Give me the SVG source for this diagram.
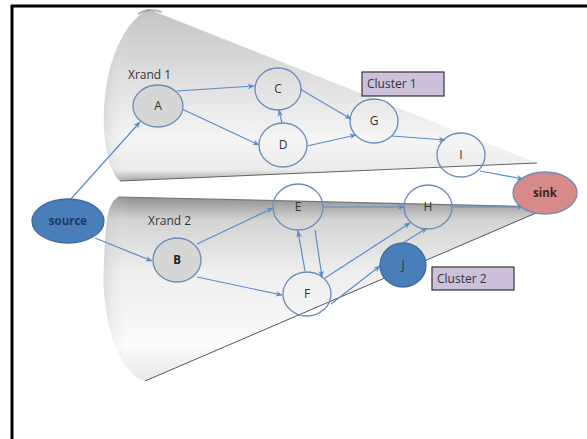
<svg xmlns="http://www.w3.org/2000/svg" width="587" height="439" viewBox="0 0 587 439">
<defs>
<linearGradient id="g1" gradientUnits="userSpaceOnUse" x1="0" y1="10" x2="0" y2="182">
<stop offset="0" stop-color="#c4c4c4"/>
<stop offset="0.35" stop-color="#dcdcdc"/>
<stop offset="0.75" stop-color="#f5f5f5"/>
<stop offset="0.93" stop-color="#ebebeb"/>
<stop offset="1" stop-color="#a0a0a0"/>
</linearGradient>
<linearGradient id="g2" gradientUnits="userSpaceOnUse" x1="0" y1="198" x2="0" y2="382">
<stop offset="0" stop-color="#939393"/>
<stop offset="0.12" stop-color="#d3d3d3"/>
<stop offset="0.4" stop-color="#eeeeee"/>
<stop offset="0.8" stop-color="#fbfbfb"/>
<stop offset="1" stop-color="#e8e8e8"/>
</linearGradient>
<linearGradient id="rim" gradientUnits="userSpaceOnUse" x1="100" y1="0" x2="130" y2="0">
<stop offset="0" stop-color="#a0a6b0" stop-opacity="0.35"/>
<stop offset="1" stop-color="#ffffff" stop-opacity="0"/>
</linearGradient>
<marker id="ah" viewBox="0 0 10 10" refX="9" refY="5" markerWidth="7" markerHeight="7" orient="auto" markerUnits="userSpaceOnUse">
<path d="M0,1 L10,5 L0,9 L3,5 Z" fill="#5b8bc9"/>
</marker>
<style>
.e{stroke:#5b8bc9;stroke-width:1.2;fill:none;marker-end:url(#ah)}
.n{stroke:#6b8cba;stroke-width:1.3;fill:none}
.ng{stroke:#6b8cba;stroke-width:1.3;fill:#d6d6d6}
.t{font-family:"Open Sans","Liberation Sans",sans-serif;font-size:12px;fill:#333;text-anchor:middle}
.tb{font-family:"Open Sans","Liberation Sans",sans-serif;font-size:11.5px;font-weight:bold;text-anchor:middle}
.lab{font-family:"Open Sans","Liberation Sans",sans-serif;font-size:12px;fill:#333}
.cl{fill:#ccc0da;stroke:#333;stroke-width:1.2}
</style>
</defs>
<rect width="587" height="439" fill="#fff"/>
<g id="frame">
<line x1="11" y1="6" x2="587" y2="6" stroke="#000" stroke-width="3"/>
<line x1="12" y1="5" x2="12" y2="439" stroke="#000" stroke-width="3"/>
</g>
<g id="cone1">
<path d="M148,9 L537,163 L120,181 C95,160 95,40 148,9 Z" fill="url(#g1)"/>
<path d="M148,9 L537,163 L120,181 C95,160 95,40 148,9 Z" fill="url(#rim)"/>
<path d="M537,163 L120,181" stroke="#666" stroke-width="1" fill="none"/>
<path d="M138,14 Q148,7 162,12" stroke="#6a7486" stroke-width="2" fill="none" opacity="0.5"/>
</g>
<g id="cone2">
<path d="M118,197 L550,207 L145,381 C120,375 100,320 104,262 C106,225 106,205 118,197 Z" fill="url(#g2)"/>
<path d="M118,197 L550,207 L145,381 C120,375 100,320 104,262 C106,225 106,205 118,197 Z" fill="url(#rim)"/>
<path d="M118,197 L550,207" stroke="#777" stroke-width="1.2" fill="none"/>
<path d="M550,207 L145,381" stroke="#555" stroke-width="1" fill="none"/>
</g>
<g id="labels">
<text class="lab" x="128" y="79">Xrand 1</text>
<text class="lab" x="148" y="225">Xrand 2</text>
</g>
<g id="connectors">
<line class="e" x1="70" y1="200" x2="140" y2="122"/>
<line class="e" x1="177" y1="91" x2="254" y2="86"/>
<line class="e" x1="182" y1="109" x2="259" y2="145"/>
<line class="e" x1="282" y1="123" x2="279" y2="110"/>
<line class="e" x1="300" y1="89" x2="351" y2="119"/>
<line class="e" x1="307" y1="146" x2="356" y2="135"/>
<line class="e" x1="392" y1="136" x2="445" y2="140"/>
<line class="e" x1="480" y1="171" x2="523" y2="179"/>
<line class="e" x1="452" y1="207" x2="523" y2="207"/>
<line class="e" x1="323" y1="207" x2="404" y2="207"/>
<line class="e" x1="95" y1="238" x2="152" y2="261"/>
<line class="e" x1="197" y1="244" x2="273" y2="208"/>
<line class="e" x1="197" y1="277" x2="282" y2="295"/>
<line class="e" x1="305" y1="271" x2="298" y2="231"/>
<line class="e" x1="315" y1="230" x2="322" y2="277"/>
<line class="e" x1="325" y1="278" x2="410" y2="223"/>
<line class="e" x1="331" y1="304" x2="380" y2="266"/>
<line class="e" x1="403" y1="243" x2="427" y2="228"/>
</g>
<g id="node-source">
<ellipse cx="68" cy="221" rx="36" ry="22" fill="#4a7ebb" stroke="#41689a" stroke-width="1.3"/>
<text class="tb" x="68" y="225" fill="#1f3864">source</text>
</g>
<g id="node-A"><ellipse class="ng" cx="158" cy="106" rx="25" ry="21"/><text class="t" x="158" y="110">A</text></g>
<g id="node-C"><ellipse class="n" cx="278" cy="89" rx="23" ry="21"/><text class="t" x="278" y="93">C</text></g>
<g id="node-D"><ellipse class="n" cx="283" cy="145" rx="24" ry="22"/><text class="t" x="283" y="149">D</text></g>
<g id="node-G"><ellipse class="n" cx="374" cy="121" rx="24" ry="22"/><text class="t" x="374" y="125">G</text></g>
<g id="node-I"><ellipse class="n" cx="461" cy="155" rx="24" ry="22"/><text class="t" x="461" y="159">I</text></g>
<g id="node-B"><ellipse class="ng" cx="177" cy="260" rx="24" ry="22"/><text class="tb" x="177" y="264" fill="#222">B</text></g>
<g id="node-E"><ellipse class="n" cx="298" cy="207" rx="25" ry="23"/><text class="t" x="298" y="211">E</text></g>
<g id="node-H"><ellipse class="n" cx="428" cy="207" rx="24" ry="22"/><text class="t" x="428" y="211">H</text></g>
<g id="node-F"><ellipse class="n" cx="307" cy="294" rx="24" ry="22"/><text class="t" x="307" y="298">F</text></g>
<g id="node-J"><ellipse cx="403" cy="265" rx="23" ry="22" fill="#4a7ebb" stroke="#41689a" stroke-width="1.3"/><text class="t" x="403" y="269">J</text></g>
<g id="node-sink">
<ellipse cx="545" cy="193" rx="32" ry="21" fill="#d78b88" stroke="#6b8cba" stroke-width="1.3"/>
<text class="tb" x="545" y="197" fill="#3a2222">sink</text>
</g>
<g id="cluster1"><rect class="cl" x="362" y="72" width="82" height="24"/><text class="lab" x="367" y="88">Cluster 1</text></g>
<g id="cluster2"><rect class="cl" x="432" y="267" width="82" height="23"/><text class="lab" x="437" y="283">Cluster 2</text></g>
</svg>
